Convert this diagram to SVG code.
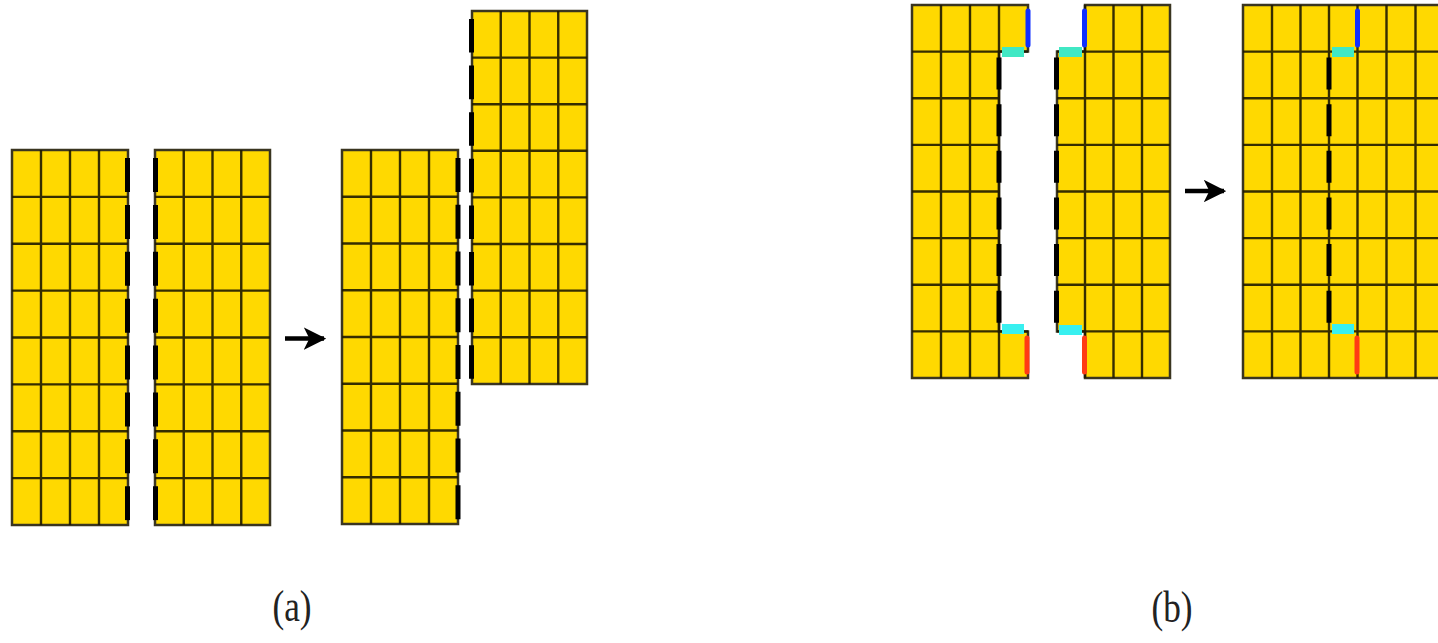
<svg xmlns="http://www.w3.org/2000/svg" width="1438" height="643" viewBox="0 0 1438 643">
<defs>
<style>
.cell{fill:#FFD900;stroke:#3a3520;stroke-width:2.5;stroke-linejoin:miter}
.ln{fill:none;stroke:#1f1a00;stroke-width:2.4;stroke-opacity:0.9}
.dsh{fill:none;stroke:#000;stroke-width:5}
.blue{fill:none;stroke:#1030ff;stroke-width:5;stroke-linecap:round}
.red{fill:none;stroke:#ff3c14;stroke-width:5;stroke-linecap:round}
.aq{fill:#40e8c4}
.cy{fill:#38f0f0}
.arr{fill:none;stroke:#000;stroke-width:4.5}
.lbl{font-family:"Liberation Serif","DejaVu Serif",serif;font-size:44px;fill:#222;text-anchor:middle}
</style>
<marker id="ah" viewBox="0 0 10 10" refX="9" refY="5" markerWidth="5" markerHeight="5" markerUnits="strokeWidth" orient="auto">
<path d="M0,0 L10,5 L0,10 L2.5,5 Z" fill="#000"/>
</marker>
</defs>
<rect width="1438" height="643" fill="#fff"/>

<!-- Panel (a) -->
<g id="a-piece1">
<rect class="cell" x="12" y="150" width="116" height="375"/>
<path class="ln" d="M41,150V525M70,150V525M99,150V525M12,196.9H128M12,243.75H128M12,290.6H128M12,337.5H128M12,384.4H128M12,431.25H128M12,478.1H128"/>
<path class="dsh" d="M127.5,158V525" stroke-dasharray="34 12.875"/>
</g>
<g id="a-piece2">
<rect class="cell" x="155" y="150" width="115" height="375"/>
<path class="ln" d="M183.75,150V525M212.5,150V525M241.25,150V525M155,196.9H270M155,243.75H270M155,290.6H270M155,337.5H270M155,384.4H270M155,431.25H270M155,478.1H270"/>
<path class="dsh" d="M155.5,158V525" stroke-dasharray="34 12.875"/>
</g>
<g id="a-piece3">
<rect class="cell" x="342" y="150" width="116" height="374"/>
<path class="ln" d="M371,150V524M400,150V524M429,150V524M342,196.75H458M342,243.5H458M342,290.25H458M342,337H458M342,383.75H458M342,430.5H458M342,477.25H458"/>
<path class="dsh" d="M458,158V524" stroke-dasharray="34 12.75"/>
</g>
<g id="a-piece4">
<rect class="cell" x="472" y="11" width="115" height="373"/>
<path class="ln" d="M500.75,11V384M529.5,11V384M558.25,11V384M472,57.6H587M472,104.2H587M472,150.8H587M472,197.4H587M472,244H587M472,290.6H587M472,337.2H587"/>
<path class="dsh" d="M471.5,19V384" stroke-dasharray="33.6 13"/>
</g>

<!-- Panel (b) -->
<g id="b-piece1">
<path class="cell" d="M912,5H1028V51.6H999V331.4H1028V378H912Z"/>
<path class="ln" d="M941,5V378M970,5V378M999,5V378M912,51.6H1028M912,331.4H1028M912,98.25H999M912,144.9H999M912,191.5H999M912,238.1H999M912,284.75H999"/>
<path class="dsh" d="M999,57.6V326" stroke-dasharray="32 14.625"/>
<line class="blue" x1="1028" y1="11" x2="1028" y2="45"/>
<rect class="aq" x="1002" y="47" width="22" height="10"/>
<rect class="cy" x="1002" y="324" width="22" height="10"/>
<line class="red" x1="1027" y1="338" x2="1027" y2="372"/>
</g>
<g id="b-piece2">
<path class="cell" d="M1085,5H1170V378H1085V331.4H1057V51.6H1085Z"/>
<path class="ln" d="M1085,5V378M1113.5,5V378M1142,5V378M1057,51.6H1170M1057,98.25H1170M1057,144.9H1170M1057,191.5H1170M1057,238.1H1170M1057,284.75H1170M1057,331.4H1170"/>
<path class="dsh" d="M1056.5,57.6V326" stroke-dasharray="32 14.625"/>
<line class="blue" x1="1084.5" y1="11" x2="1084.5" y2="45"/>
<rect class="aq" x="1059" y="47" width="23" height="10"/>
<rect class="cy" x="1059" y="325" width="23" height="10"/>
<line class="red" x1="1084.5" y1="338" x2="1084.5" y2="372"/>
</g>
<g id="b-merged">
<rect class="cell" x="1243" y="5" width="203" height="373"/>
<path class="ln" d="M1272,5V378M1300.5,5V378M1329,5V378M1357.5,5V378M1386.5,5V378M1415.5,5V378M1243,51.6H1446M1243,98.25H1446M1243,144.9H1446M1243,191.5H1446M1243,238.1H1446M1243,284.75H1446M1243,331.4H1446"/>
<path class="dsh" d="M1329,57.6V326" stroke-dasharray="32 14.625"/>
<line class="blue" x1="1357.5" y1="11" x2="1357.5" y2="45"/>
<rect class="aq" x="1332" y="47" width="22" height="10"/>
<rect class="cy" x="1332" y="324" width="22" height="10"/>
<line class="red" x1="1357" y1="338" x2="1357" y2="372"/>
</g>

<g id="connectors">
<line class="arr" x1="285" y1="338.5" x2="324" y2="338.5" marker-end="url(#ah)"/>
<line class="arr" x1="1185" y1="191" x2="1224" y2="191" marker-end="url(#ah)"/>
</g>

<g id="labels">
<text class="lbl" transform="translate(292,621) scale(0.8,1)">(a)</text>
<text class="lbl" transform="translate(1172,622) scale(0.8,1)">(b)</text>
</g>
</svg>
